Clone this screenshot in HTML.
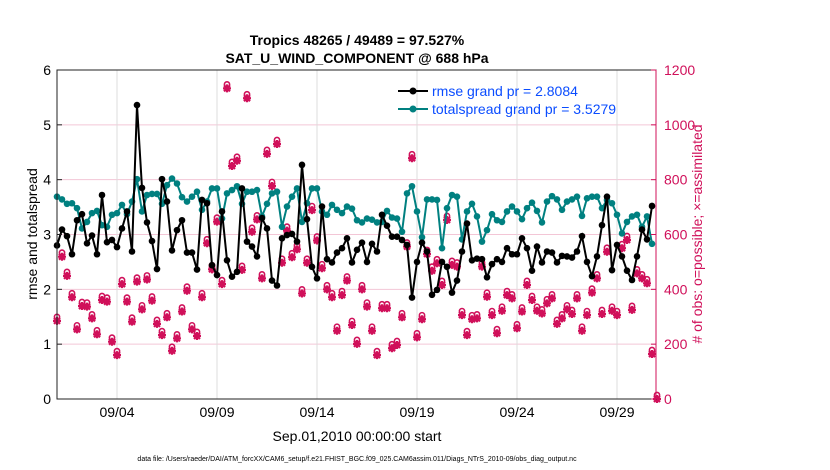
<!DOCTYPE html>
<html><head><meta charset="utf-8"><style>
body{margin:0;background:#fff;}
svg{display:block;font-family:"Liberation Sans",sans-serif;}
</style></head><body>
<svg id="chart" width="830" height="470">
<text x="357" y="45" text-anchor="middle" font-size="14" font-weight="bold">Tropics 48265 / 49489 = 97.527%</text>
<text x="357" y="63" text-anchor="middle" font-size="14" font-weight="bold">SAT_U_WIND_COMPONENT @ 688 hPa</text>
<g id="grid"></g>
<g id="obs"></g>
<g id="lines"></g>
<rect x="57" y="70" width="599" height="329" fill="none" stroke="#222" stroke-width="1"/>
<line x1="656" y1="70" x2="656" y2="399" stroke="#d0105a" stroke-width="1"/>
<g id="axes"></g>
<text transform="translate(37,234) rotate(-90)" text-anchor="middle" font-size="14">rmse and totalspread</text>
<text transform="translate(702,234) rotate(-90)" text-anchor="middle" font-size="14" fill="#d0105a"># of obs: o=possible; ×=assimilated</text>
<text x="357" y="441" text-anchor="middle" font-size="14">Sep.01,2010 00:00:00 start</text>
<text x="357" y="461" text-anchor="middle" font-size="7">data file: /Users/raeder/DAI/ATM_forcXX/CAM6_setup/f.e21.FHIST_BGC.f09_025.CAM6assim.011/Diags_NTrS_2010-09/obs_diag_output.nc</text>
<g>
<line x1="398" y1="91" x2="428" y2="91" stroke="#000" stroke-width="2"/>
<circle cx="413" cy="91" r="3.5" fill="#000"/>
<text x="432" y="96" font-size="14" fill="#0a4cff">rmse grand pr = 2.8084</text>
<line x1="398" y1="109" x2="428" y2="109" stroke="#008080" stroke-width="2"/>
<circle cx="413" cy="109" r="3.5" fill="#008080"/>
<text x="432" y="114" font-size="14" fill="#0a4cff">totalspread grand pr = 3.5279</text>
</g>
</svg>
<script>
const rmse=[2.80,3.09,2.97,2.64,3.26,3.37,2.84,2.98,2.64,3.72,2.86,2.90,2.77,3.11,3.42,2.69,5.36,3.85,3.22,2.88,2.37,4.01,3.60,2.71,3.08,3.26,2.67,2.67,2.36,3.63,3.57,2.44,2.26,3.42,2.53,2.23,2.32,3.84,2.87,2.78,2.60,3.30,3.11,2.16,2.07,2.93,2.99,3.01,2.87,4.27,3.28,2.41,2.20,3.51,2.55,2.49,2.67,2.75,2.93,2.49,2.72,2.85,2.50,2.83,2.69,3.36,3.16,2.96,2.96,2.90,2.81,1.85,2.50,2.85,2.69,1.90,1.99,2.50,2.41,1.94,2.16,2.69,3.20,2.53,2.56,2.55,2.22,2.46,2.55,2.50,2.75,2.64,2.64,2.93,2.75,2.34,2.78,2.49,2.69,2.67,2.49,2.61,2.60,2.58,2.69,2.97,2.50,2.24,2.60,3.17,3.69,2.35,2.81,2.60,2.34,2.17,2.60,3.09,2.91,3.52];
const spread=[3.69,3.64,3.56,3.57,3.48,3.11,3.23,3.39,3.43,3.17,3.14,3.36,3.39,3.54,3.37,3.60,4.01,3.42,3.72,3.74,3.74,3.56,3.90,4.02,3.93,3.68,3.60,3.69,3.78,3.45,3.60,3.84,3.84,3.29,3.75,3.81,3.88,3.56,3.78,3.78,3.81,3.33,3.56,3.75,3.78,3.14,3.51,3.69,3.84,3.23,3.57,3.84,3.84,3.42,3.36,3.54,3.45,3.39,3.51,3.47,3.26,3.22,3.29,3.27,3.22,3.23,3.43,3.31,3.29,3.05,3.75,3.88,3.42,2.95,3.64,3.64,3.63,2.75,3.48,3.72,3.69,2.91,3.42,3.56,3.33,2.87,3.08,3.37,3.26,3.23,3.42,3.51,3.42,3.28,3.48,3.58,3.43,3.22,3.60,3.70,3.64,3.45,3.60,3.64,3.69,3.34,3.66,3.69,3.69,3.48,3.63,3.57,3.36,3.02,3.23,3.33,3.36,3.14,3.33,2.83];
const obsCount=[285,519,449,371,254,339,337,294,236,361,355,209,160,419,355,282,428,327,436,359,274,233,298,176,221,319,395,254,230,371,568,473,647,419,1133,850,869,471,1097,610,655,440,894,777,930,497,614,517,546,385,497,689,578,477,400,371,249,379,432,270,201,400,337,249,160,331,331,185,197,298,556,878,225,291,529,468,495,416,653,489,483,306,233,291,294,483,373,306,240,322,379,367,258,319,416,361,322,312,349,367,274,294,327,310,367,249,306,388,440,310,537,322,306,550,580,325,458,440,422,164,0];
const leftTicks=[0,1,2,3,4,5,6];
const rightTicks=[0,200,400,600,800,1000,1200];
const dateTicks=[3,8,13,18,23,28];
const dateLabels=["09/04","09/09","09/14","09/19","09/24","09/29"];
const NS="http://www.w3.org/2000/svg";
const X0=57,PXDAY=20,Y0=399,Y1=70;
const xs=i=>X0+i*PXDAY/4;
const xd=d=>X0+d*PXDAY;
const yl=v=>Y0-(Y0-Y1)*v/6;
const yr=v=>Y0-(Y0-Y1)*v/1200;
function mk(tag,attrs,parent){const e=document.createElementNS(NS,tag);for(const k in attrs)e.setAttribute(k,attrs[k]);parent.appendChild(e);return e;}
const grid=document.getElementById('grid'),axes=document.getElementById('axes'),obs=document.getElementById('obs'),lines=document.getElementById('lines');
leftTicks.forEach(t=>{
 if(t>0&&t<6){const g=mk('line',{x1:X0,x2:656,y1:yl(t),y2:yl(t),stroke:'#f3c6d6','stroke-width':1},grid);
 
 }
 const tk=mk('line',{x1:X0,x2:X0+5,y1:yl(t),y2:yl(t),stroke:'#222'},axes);
 
 
 const tx=mk('text',{x:51,y:yl(t)+5,'text-anchor':'end','font-size':14},axes);tx.textContent=t;
 
 
});
rightTicks.forEach(t=>{
 const tk=mk('line',{x1:651,x2:656,y1:yr(t),y2:yr(t),stroke:'#d0105a'},axes);
 
 
 const tx=mk('text',{x:664,y:yr(t)+5,'font-size':14,fill:'#d0105a'},axes);tx.textContent=t;
 
 
});
dateTicks.forEach((d,k)=>{
 const g=mk('line',{x1:xd(d),x2:xd(d),y1:Y1,y2:Y0,stroke:'#ddd'},grid);
 
 
 const tx=mk('text',{x:xd(d),y:417,'text-anchor':'middle','font-size':14},axes);tx.textContent=dateLabels[k];
 
 
});
obsCount.forEach((c,i)=>{
 const x=xs(i),y=yr(c);
 const ci=mk('circle',{cx:x,cy:y-4,r:2.6,fill:'none',stroke:'#d0105a','stroke-width':1.6},obs);
 
 
 const st=mk('path',{d:`M${x-4},${y}H${x+4}M${x},${y-4}V${y+4}M${x-3},${y-3}L${x+3},${y+3}M${x-3},${y+3}L${x+3},${y-3}`,stroke:'#d0105a','stroke-width':2.2},obs);
 
 
});
function series(arr,color,name){
 const p=mk('polyline',{points:arr.map((v,i)=>xs(i)+','+yl(v)).join(' '),fill:'none',stroke:color,'stroke-width':2},lines);
 
 
 arr.forEach((v,i)=>{const c=mk('circle',{cx:xs(i),cy:yl(v),r:3.3,fill:color},lines);
 
 });
}
series(spread,'#008080','totalspread');
series(rmse,'#000','rmse');
</script>
</body></html>
